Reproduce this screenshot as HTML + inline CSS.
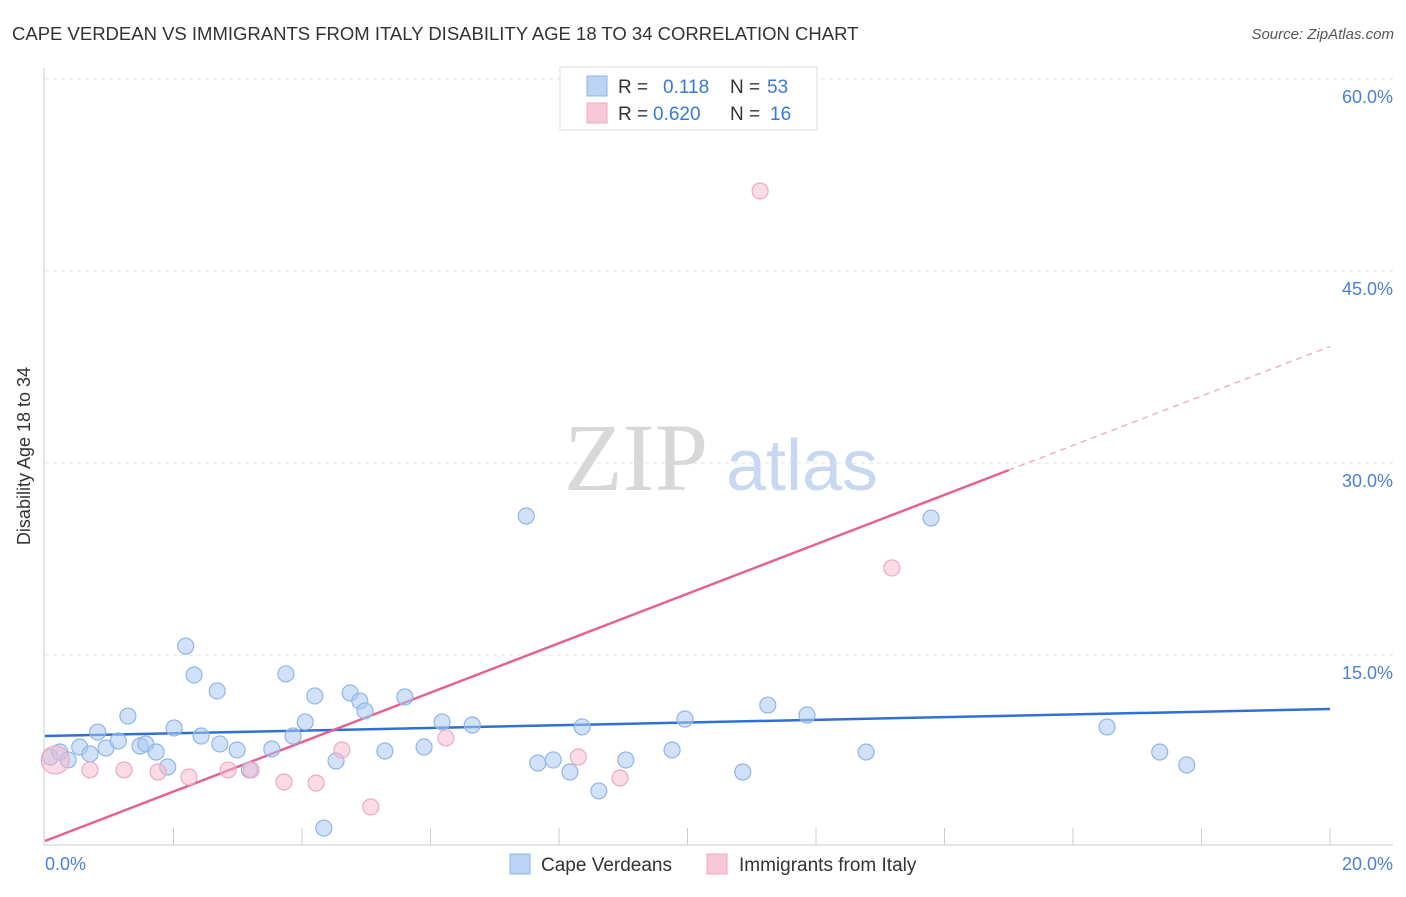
<!DOCTYPE html>
<html><head><meta charset="utf-8"><style>
body{margin:0;background:#fff;font-family:"Liberation Sans",sans-serif;}
</style></head><body>
<svg width="1406" height="892" xmlns="http://www.w3.org/2000/svg" style="font-family:'Liberation Sans',sans-serif">
<text x="12" y="40" font-size="18.5" fill="#333">CAPE VERDEAN VS IMMIGRANTS FROM ITALY DISABILITY AGE 18 TO 34 CORRELATION CHART</text>
<text x="1394" y="39" font-size="15" fill="#555" text-anchor="end" font-style="italic">Source: ZipAtlas.com</text>
<g id="grid"></g>
<g id="axes"></g>
<text x="636" y="490" font-size="96" fill="#d8d8d8" font-family="Liberation Serif" text-anchor="middle">ZIP</text>
<text x="802" y="490" font-size="72" fill="#c8d8f0" text-anchor="middle">atlas</text>
<g id="lines"></g>
<g id="pts"></g>
<text x="30" y="456" font-size="18" fill="#333" text-anchor="middle" transform="rotate(-90 30 456)">Disability Age 18 to 34</text>
<text x="45" y="870" font-size="18" fill="#4a80d8">0.0%</text>
<text x="1393" y="870" font-size="18" fill="#4a80d8" text-anchor="end">20.0%</text>
<g>
<rect x="560" y="67" width="257" height="63" fill="#fff" stroke="#ddd"/>
<rect x="587" y="76" width="20" height="20" fill="#bcd4f4" stroke="#8fb6e8"/>
<rect x="587" y="103" width="20" height="20" fill="#f9c8d6" stroke="#f0a8c0"/>
<text x="618" y="93" font-size="19" fill="#333">R = </text><text x="663" y="93" font-size="19" fill="#3a78d8">0.118</text>
<text x="730" y="93" font-size="19" fill="#333">N = </text><text x="767" y="93" font-size="19" fill="#3a78d8">53</text>
<text x="618" y="120" font-size="19" fill="#333">R = </text><text x="653" y="120" font-size="19" fill="#3a78d8">0.620</text>
<text x="730" y="120" font-size="19" fill="#333">N = </text><text x="770" y="120" font-size="19" fill="#3a78d8">16</text>
</g>
<g>
<rect x="510" y="854" width="20" height="20" fill="#bcd4f4" stroke="#8fb6e8"/>
<text x="541" y="871" font-size="19" fill="#333">Cape Verdeans</text>
<rect x="707" y="854" width="20" height="20" fill="#f9c8d6" stroke="#f0a8c0"/>
<text x="739" y="871" font-size="19" fill="#333">Immigrants from Italy</text>
</g>
</svg>
<script>
const yTicks=[15,30,45,60];
const yTickLabels=["15.0%","30.0%","45.0%","60.0%"];
const blueX=[0.08,0.23,0.36,0.54,0.70,0.82,0.95,1.14,1.29,1.48,1.57,1.73,1.91,2.01,2.19,2.32,2.43,2.68,2.72,2.99,3.18,3.53,3.75,3.86,4.05,4.20,4.34,4.53,4.75,4.90,4.98,5.29,5.60,5.90,6.18,6.65,7.49,7.67,7.91,8.17,8.36,8.62,9.04,9.76,9.96,10.86,11.25,11.86,12.78,13.79,16.53,17.35,17.77];
const blueY=[7.03,7.42,6.80,7.81,7.27,8.98,7.73,8.28,10.23,7.89,8.05,7.42,6.25,9.30,15.70,13.44,8.67,12.19,8.05,7.58,6.02,7.66,13.52,8.67,9.77,11.80,1.48,6.72,12.03,11.41,10.63,7.50,11.72,7.81,9.77,9.53,25.86,6.56,6.80,5.86,9.38,4.38,6.80,7.58,10.00,5.86,11.09,10.31,7.42,25.70,9.38,7.42,6.41];
const pinkX=[0.16,0.70,1.23,1.76,2.24,2.85,3.21,3.72,4.22,4.62,5.07,6.24,8.30,8.95,11.13,13.18];
const pinkY=[6.80,6.02,6.02,5.86,5.47,6.02,6.02,5.08,5.00,7.58,3.13,8.52,7.03,5.39,51.25,21.80];
const blueTrend=[8.67,10.78];
const pinkTrend=[0.47,39.1];
const pinkSolidEnd=15;
const NS="http://www.w3.org/2000/svg";
const sx=v=>45+v*64.25, sy=v=>847-v*12.8;
function mk(t,a,p){const e=document.createElementNS(NS,t);for(const k in a)e.setAttribute(k,a[k]);p.appendChild(e);return e;}
const grid=document.getElementById('grid'),axes=document.getElementById('axes'),lines=document.getElementById('lines'),pts=document.getElementById('pts');
yTicks.forEach((t,i)=>{
 const l=mk('line',{x1:45,x2:1393,y1:sy(t),y2:sy(t),stroke:'#e2e2e2','stroke-dasharray':'4,4'},grid);
 
 
 const tx=mk('text',{x:1393,y:sy(t)+24,'font-size':18,fill:'#4a80d8','text-anchor':'end'},grid);
 tx.textContent=yTickLabels[i];
 
 
});
let a=mk('line',{x1:44,x2:44,y1:68,y2:845,stroke:'#ccc'},axes);


a=mk('line',{x1:44,x2:1393,y1:845,y2:845,stroke:'#ccc'},axes);


for(let i=1;i<=10;i++){const t=mk('line',{x1:sx(i*2),x2:sx(i*2),y1:828,y2:845,stroke:'#ccc'},axes);
 
 }
function pt(x,y,f,s,r){const c=mk('circle',{cx:sx(x),cy:sy(y),r:r,fill:f,stroke:s,'stroke-width':1.2},pts);return c;}
blueX.forEach((x,i)=>{const c=pt(x,blueY[i],'rgba(170,200,242,0.55)','#8fb6e8',8);
 
 });
pinkX.forEach((x,i)=>{const c=pt(x,pinkY[i],'rgba(247,185,205,0.5)','#f0a8c0',i==0?14:8);
 
 });
let ln=mk('line',{x1:sx(0),y1:sy(blueTrend[0]),x2:sx(20),y2:sy(blueTrend[1]),stroke:'#2f6fd6','stroke-width':2.5},lines);


const pm=v=>pinkTrend[0]+(pinkTrend[1]-pinkTrend[0])*v/20;
ln=mk('line',{x1:sx(0),y1:sy(pm(0)),x2:sx(pinkSolidEnd),y2:sy(pm(pinkSolidEnd)),stroke:'#e8608f','stroke-width':2.5},lines);


ln=mk('line',{x1:sx(pinkSolidEnd),y1:sy(pm(pinkSolidEnd)),x2:sx(20),y2:sy(pm(20)),stroke:'#e8a0b8','stroke-width':1.2,'stroke-dasharray':'6,5'},lines);


</script>
</body></html>
